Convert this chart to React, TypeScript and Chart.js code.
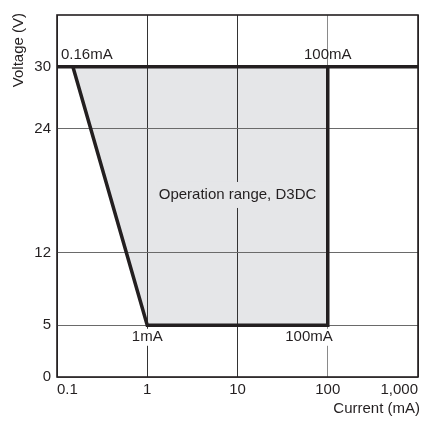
import React, { useEffect, useRef } from "react";
import { Chart, registerables } from "chart.js";

Chart.register(...registerables);

// ---- data ----
const xTickValues = [0.1, 1, 10, 100, 1000];
const xTickLabels = ["0.1", "1", "10", "100", "1,000"];
const yTickValues = [0, 5, 12, 24, 30];
const yTickLabels = ["0", "5", "12", "24", "30"];

// operating range polygon (current mA, voltage V)
const rangeX = [0.15, 100, 100, 1, 0.15];
const rangeY = [30, 30, 5, 5, 30];
// boundary line at 30 V across the whole axis
const limitX = [0.1, 1000];
const limitY = [30, 30];
// thick outline of the range
const outlineX = [0.15, 1, 100, 100];
const outlineY = [30, 5, 5, 30];

const labelTexts = ["0.16mA", "100mA", "1mA", "100mA", "Operation range, D3DC"];
const labelX = [0.1, 100, 1, 100, 10];
const labelY = [30, 30, 5, 5, 17.6];

const FONT = "Liberation Sans, Arial, Helvetica, sans-serif";
const INK = "#231f20";
const FILL = "#e5e6e8";

const toPts = (xs: number[], ys: number[]) => xs.map((x, i) => ({ x, y: ys[i] }));

const decorPlugin = {
  id: "decor",
  afterDatasetsDraw(chart: any) {
    const { ctx, chartArea, scales } = chart;
    const xs = scales.x;
    const ys = scales.y;
    ctx.save();
    ctx.font = `15px ${FONT}`;
    ctx.textBaseline = "middle";
    // label style (offsets in px)
    const styles = [
      { dx: 4, dy: -12, align: "left", bg: null },
      { dx: 0, dy: -12, align: "center", bg: null },
      { dx: 0, dy: 12, align: "center", bg: "#ffffff" },
      { dx: 5, dy: 12, align: "right", bg: "#ffffff" },
      { dx: 0, dy: 0, align: "center", bg: FILL },
    ];
    labelTexts.forEach((t, i) => {
      const s = styles[i];
      const px = xs.getPixelForValue(labelX[i]) + s.dx;
      const py = ys.getPixelForValue(labelY[i]) + s.dy;
      const w = ctx.measureText(t).width;
      let left = px;
      if (s.align === "center") left = px - w / 2;
      if (s.align === "right") left = px - w;
      if (s.bg) {
        ctx.fillStyle = s.bg;
        const h = i === 4 ? 26 : 17;
        ctx.fillRect(left - 2, py - h / 2, w + 4, h);
      }
      ctx.fillStyle = INK;
      ctx.textAlign = "left";
      ctx.fillText(t, left, py);
    });
    // frame
    ctx.strokeStyle = INK;
    ctx.lineWidth = 1.6;
    ctx.strokeRect(chartArea.left, chartArea.top, chartArea.right - chartArea.left, chartArea.bottom - chartArea.top);
    // axis titles
    ctx.fillStyle = INK;
    ctx.font = `15px ${FONT}`;
    ctx.textAlign = "right";
    ctx.textBaseline = "middle";
    ctx.fillText("Current (mA)", 420, 409);
    ctx.translate(19, 13);
    ctx.rotate(-Math.PI / 2);
    ctx.fillText("Voltage (V)", 0, 0);
    ctx.restore();
  },
};

export default function App() {
  const ref = useRef<HTMLCanvasElement | null>(null);
  useEffect(() => {
    if (!ref.current) return;
    const chart = new Chart(ref.current, {
      type: "scatter",
      data: {
        datasets: [
          {
            data: toPts(rangeX, rangeY),
            showLine: true,
            fill: "shape",
            backgroundColor: FILL,
            borderWidth: 0,
            borderColor: "rgba(0,0,0,0)",
            pointRadius: 0,
          } as any,
          {
            data: toPts(limitX, limitY),
            showLine: true,
            borderColor: INK,
            borderWidth: 3.5,
            pointRadius: 0,
            fill: false,
          },
          {
            data: toPts(outlineX, outlineY),
            showLine: true,
            borderColor: INK,
            borderWidth: 3.5,
            pointRadius: 0,
            fill: false,
            borderJoinStyle: "miter",
          } as any,
        ],
      },
      options: {
        animation: false,
        responsive: false,
        layout: { padding: { top: 14, right: 2, left: 0, bottom: 0 } },
        plugins: {
          legend: { display: false },
          tooltip: { enabled: false },
          filler: { drawTime: "beforeDraw" },
        } as any,
        scales: {
          x: {
            type: "logarithmic",
            min: 0.1,
            max: 1000,
            afterBuildTicks: (s: any) => {
              s.ticks = xTickValues.map((v) => ({ value: v }));
            },
            afterFit: (s: any) => {
              s.height = 46;
            },
            ticks: {
              autoSkip: false,
              maxRotation: 0,
              align: "inner",
              padding: 4,
              color: INK,
              font: { family: FONT, size: 15 },
              callback: (_v: any, i: number) => xTickLabels[i],
            },
            grid: {
              drawTicks: false,
              lineWidth: 1,
              color: (c: any) => (c.tick && c.tick.value === 100 ? "#8a8a8a" : "#333333"),
            },
            border: { display: false },
          },
          y: {
            type: "linear",
            min: 0,
            max: 35,
            afterBuildTicks: (s: any) => {
              s.ticks = yTickValues.map((v) => ({ value: v }));
            },
            afterFit: (s: any) => {
              s.width = 57;
            },
            ticks: {
              autoSkip: false,
              padding: 6,
              color: INK,
              font: { family: FONT, size: 15 },
              callback: (_v: any, i: number) => yTickLabels[i],
            },
            grid: {
              drawTicks: false,
              lineWidth: 1,
              color: "#6a6a6a",
            },
            border: { display: false },
          },
        },
      },
      plugins: [decorPlugin],
    });
    return () => chart.destroy();
  }, []);
  return (
    <div style={{ position: "absolute", left: 0, top: 0, width: 422, height: 423, background: "#fff" }}>
      <canvas ref={ref} width={422} height={423} style={{ display: "block" }} />
    </div>
  );
}
